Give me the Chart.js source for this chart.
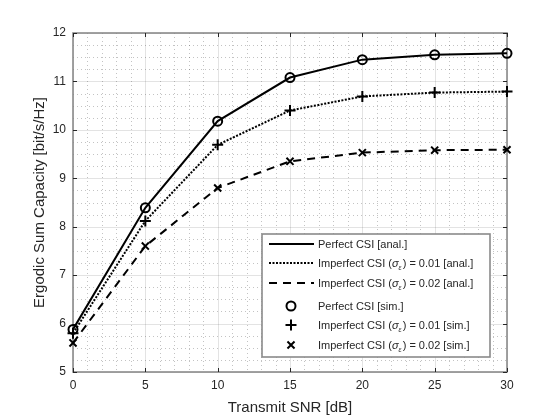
<!DOCTYPE html>
<html><head><meta charset="utf-8">
<script src="https://cdn.jsdelivr.net/npm/chart.js@4/dist/chart.umd.min.js"></script>
<style>html,body{margin:0;padding:0;background:#fff}#wrap{width:560px;height:420px}</style>
</head><body><div id="wrap"><canvas id="c" width="560" height="420"></canvas></div>
<script>
// ---- data ----
const snrDb = [0, 5, 10, 15, 20, 25, 30];
const perfectCsi = [5.88, 8.39, 10.18, 11.08, 11.45, 11.55, 11.58];
const imperfect001 = [5.80, 8.12, 9.69, 10.40, 10.69, 10.77, 10.79];
const imperfect002 = [5.60, 7.60, 8.80, 9.35, 9.53, 9.58, 9.59];
const xTickValues = [0, 5, 10, 15, 20, 25, 30];
const yTickValues = [5, 6, 7, 8, 9, 10, 11, 12];
const xMinorValues = [1,2,3,4,6,7,8,9,11,12,13,14,16,17,18,19,21,22,23,24,26,27,28,29];
const yMinorValues = [5.25,5.5,5.75,6.25,6.5,6.75,7.25,7.5,7.75,8.25,8.5,8.75,9.25,9.5,9.75,10.25,10.5,10.75,11.25,11.5,11.75];
const legendLabels = [
  'Perfect CSI [anal.]',
  'Imperfect CSI (σ_ε) = 0.01 [anal.]',
  'Imperfect CSI (σ_ε) = 0.02 [anal.]',
  'Perfect CSI [sim.]',
  'Imperfect CSI (σ_ε) = 0.01 [sim.]',
  'Imperfect CSI (σ_ε) = 0.02 [sim.]'
];
const xTitle = 'Transmit SNR [dB]';
const yTitle = 'Ergodic Sum Capacity [bit/s/Hz]';

const FONT = '"Liberation Sans", Arial, Helvetica, sans-serif';
const TXT = '#262626';
const pts = arr => snrDb.map((s, i) => ({x: s, y: arr[i]}));

const lineStyles = [
  {dash: []},
  {dash: [2, 1.5]},
  {dash: [8, 6]}
];
const markerStyles = [
  {style: 'circle', r: 4.5},
  {style: 'cross', r: 5.5},
  {style: 'crossRot', r: 5}
];

const series = [perfectCsi, imperfect001, imperfect002];
const datasets = [];
series.forEach((s, i) => datasets.push({
  data: pts(s), showLine: true, borderColor: '#000', borderWidth: 2, borderDash: lineStyles[i].dash,
  pointRadius: 0, fill: false, tension: 0, clip: false
}));
series.forEach((s, i) => datasets.push({
  data: pts(s), showLine: false, pointStyle: markerStyles[i].style, pointRadius: markerStyles[i].r,
  pointBorderWidth: 2, pointBorderColor: '#000', pointBackgroundColor: 'rgba(0,0,0,0)', clip: false
}));

function seg(ctx, x1, y1, x2, y2) { ctx.beginPath(); ctx.moveTo(x1, y1); ctx.lineTo(x2, y2); ctx.stroke(); }

const axesPlugin = {
  id: 'matlabAxes',
  beforeDatasetsDraw(chart) {
    const {ctx, chartArea: a, scales: {x, y}} = chart;
    ctx.save();
    ctx.lineWidth = 1;
    // minor grid
    ctx.setLineDash([1, 3]);
    ctx.strokeStyle = 'rgba(38,38,38,0.28)';
    xMinorValues.forEach(v => { const p = Math.round(x.getPixelForValue(v)) + 0.5; seg(ctx, p, a.top, p, a.bottom); });
    yMinorValues.forEach(v => { const p = Math.round(y.getPixelForValue(v)) + 0.5; seg(ctx, a.left, p, a.right, p); });
    // major grid
    ctx.setLineDash([]);
    ctx.strokeStyle = 'rgba(38,38,38,0.13)';
    xTickValues.forEach(v => { const p = Math.round(x.getPixelForValue(v)) + 0.5; seg(ctx, p, a.top, p, a.bottom); });
    yTickValues.forEach(v => { const p = Math.round(y.getPixelForValue(v)) + 0.5; seg(ctx, a.left, p, a.right, p); });
    // box
    ctx.strokeStyle = '#8a8a8a';
    ctx.lineWidth = 1.6;
    ctx.strokeRect(a.left, a.top, a.right - a.left, a.bottom - a.top);
    // inward ticks
    ctx.strokeStyle = '#262626';
    ctx.lineWidth = 1;
    const tl = 4;
    xTickValues.forEach(v => { const p = Math.round(x.getPixelForValue(v)) + 0.5; seg(ctx, p, a.bottom, p, a.bottom - tl); seg(ctx, p, a.top, p, a.top + tl); });
    yTickValues.forEach(v => { const p = Math.round(y.getPixelForValue(v)) + 0.5; seg(ctx, a.left, p, a.left + tl, p); seg(ctx, a.right, p, a.right - tl, p); });
    ctx.restore();
  },
  afterDraw(chart) {
    const ctx = chart.ctx;
    const bx = 262, by = 234, bw = 228, bh = 123;
    ctx.save();
    ctx.fillStyle = '#fff';
    ctx.fillRect(bx, by, bw, bh);
    ctx.strokeStyle = '#8a8a8a';
    ctx.lineWidth = 1.6;
    ctx.strokeRect(bx, by, bw, bh);
    const rows = [244, 263, 283, 306, 325, 345];
    const fs = 11;
    legendLabels.forEach((lab, i) => {
      const cy = rows[i];
      ctx.strokeStyle = '#000';
      ctx.lineWidth = 2;
      if (i < 3) {
        ctx.setLineDash(lineStyles[i].dash);
        seg(ctx, 269, cy, 314, cy);
        ctx.setLineDash([]);
      } else {
        const m = markerStyles[i - 3];
        ctx.fillStyle = 'rgba(0,0,0,0)';
        Chart.helpers.drawPoint(ctx, {pointStyle: m.style, radius: m.r, borderWidth: 2}, 291, cy);
      }
      // text
      let tx = 318;
      const ty = cy + 4;
      ctx.fillStyle = TXT;
      ctx.textBaseline = 'alphabetic';
      ctx.textAlign = 'left';
      const parts = lab.split('σ_ε');
      ctx.font = fs + 'px ' + FONT;
      ctx.fillText(parts[0], tx, ty);
      tx += ctx.measureText(parts[0]).width;
      if (parts.length > 1) {
        ctx.font = 'italic ' + fs + 'px ' + FONT;
        ctx.fillText('σ', tx, ty);
        tx += ctx.measureText('σ').width;
        ctx.font = 'italic 7px ' + FONT;
        ctx.fillText('ε', tx, ty + 3);
        tx += ctx.measureText('ε').width + 1;
        ctx.font = fs + 'px ' + FONT;
        ctx.fillText(parts[1], tx, ty);
      }
    });
    ctx.restore();
  }
};

new Chart(document.getElementById('c'), {
  type: 'scatter',
  data: {datasets},
  plugins: [axesPlugin],
  options: {
    responsive: false, animation: false, devicePixelRatio: 1,
    layout: {padding: {top: 33, right: 53, left: 0, bottom: 0}},
    plugins: {legend: {display: false}, tooltip: {enabled: false}},
    scales: {
      x: {
        type: 'linear', min: 0, max: 30,
        afterBuildTicks: s => { s.ticks = xTickValues.map(v => ({value: v})); },
        ticks: {color: TXT, font: {family: FONT, size: 12}, padding: 6, maxRotation: 0},
        grid: {display: false, drawTicks: false},
        border: {display: false},
        title: {display: true, text: xTitle, color: TXT, font: {family: FONT, size: 15}, padding: {top: 0, bottom: 3}},
        afterFit: s => { s.height = 48; }
      },
      y: {
        type: 'linear', min: 5, max: 12,
        afterBuildTicks: s => { s.ticks = yTickValues.map(v => ({value: v})); },
        ticks: {color: TXT, font: {family: FONT, size: 12}, padding: 7},
        grid: {display: false, drawTicks: false},
        border: {display: false},
        title: {display: true, text: yTitle, color: TXT, font: {family: FONT, size: 15}, padding: {top: 31, bottom: 0}},
        afterFit: s => { s.width = 73; }
      }
    }
  }
});
</script>
</body></html>
